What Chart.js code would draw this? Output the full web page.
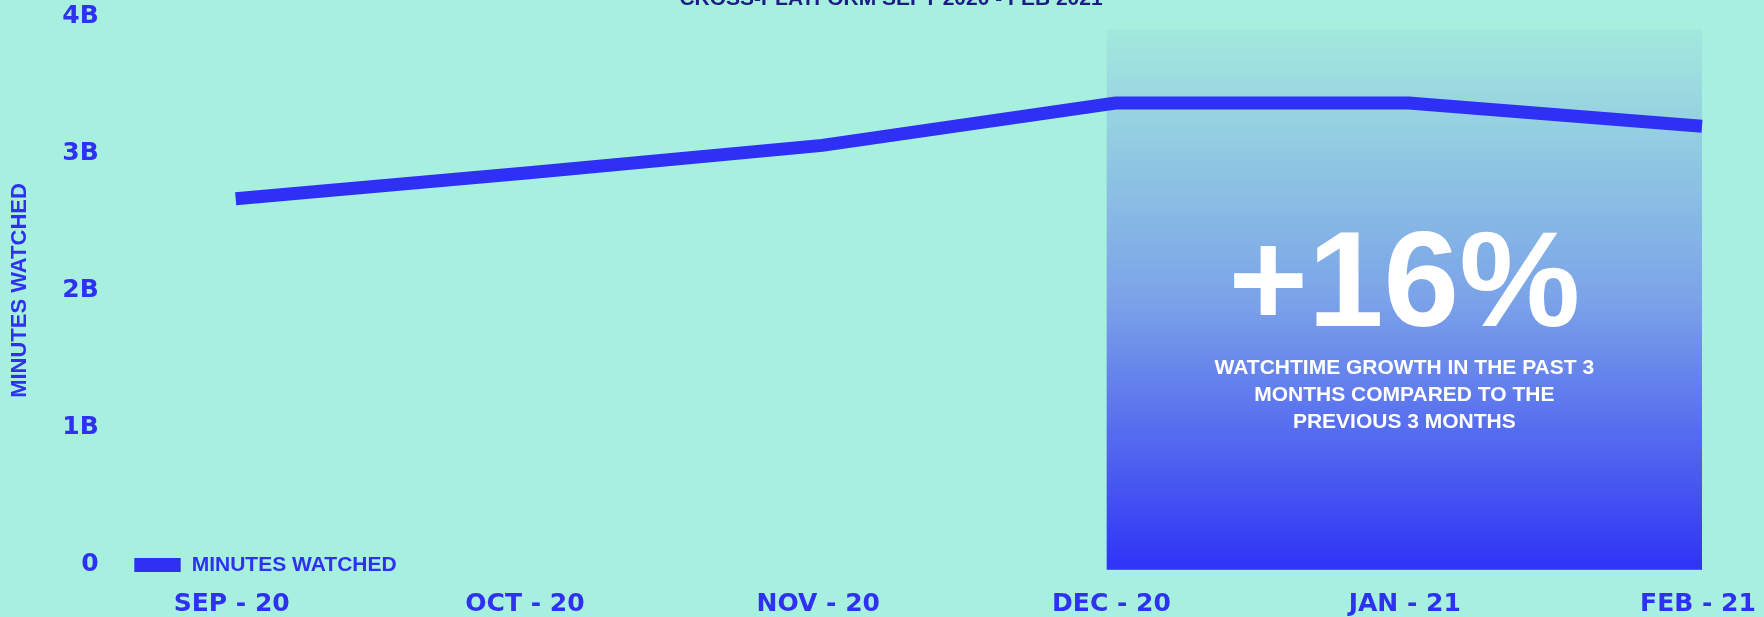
<!DOCTYPE html>
<html>
<head>
<meta charset="utf-8">
<script src="https://cdn.jsdelivr.net/npm/chart.js@4.4.0/dist/chart.umd.min.js"></script>
<style>
  html, body { margin: 0; padding: 0; background: #a7efdf; overflow: hidden; }
  #wrap { position: relative; width: 1764px; height: 617px; }
</style>
</head>
<body>
<div id="wrap"><canvas id="watch-chart"></canvas></div>
<script>
// Minutes watched per month, cross-platform (in billions)
const months = ['SEP - 20', 'OCT - 20', 'NOV - 20', 'DEC - 20', 'JAN - 21', 'FEB - 21'];
const minutesWatched = [2.67, 2.86, 3.06, 3.37, 3.37, 3.20];
const yTickLabels = ['0', '1B', '2B', '3B', '4B'];

// Highlighted period (Dec - Feb) with its callout
const highlightFrom = 2.97;   // just left of DEC - 20
const highlightTo = 5;        // FEB - 21
const highlightTop = 3.91;
const highlightBottom = -0.04;
const growthLabel = '+16%';
const growthText = ['WATCHTIME GROWTH IN THE PAST 3', 'MONTHS COMPARED TO THE', 'PREVIOUS 3 MONTHS'];
const chartTitle = 'CROSS-PLATFORM SEPT 2020 - FEB 2021';
const seriesLabel = 'MINUTES WATCHED';

const blue = '#2f31f2';
const lineBlue = '#2e30f5';
const tickFont = { family: '"DejaVu Sans"', weight: 'bold', size: 25 };

// Draws the gradient box, the +16% callout, the legend and the cut-off title
const calloutPlugin = {
  id: 'callout',
  beforeDatasetsDraw(chart) {
    const { ctx, scales: { x, y } } = chart;
    const left = x.getPixelForValue(highlightFrom);
    const right = x.getPixelForValue(highlightTo);
    const top = y.getPixelForValue(highlightTop);
    const bottom = y.getPixelForValue(highlightBottom);
    const h = bottom - top;

    const grad = ctx.createLinearGradient(0, top, 0, bottom);
    grad.addColorStop(0, '#a3e9dd');
    grad.addColorStop(0.5, '#7ba3e8');
    grad.addColorStop(1, '#2f33f6');

    ctx.save();
    ctx.fillStyle = grad;
    ctx.fillRect(left, top, right - left, h);

    const cx = (left + right) / 2;
    ctx.fillStyle = '#ffffff';
    ctx.textAlign = 'center';
    ctx.textBaseline = 'alphabetic';
    ctx.font = 'bold 136px "Liberation Sans", Arial, sans-serif';
    ctx.fillText(growthLabel, cx, top + h * 0.55);

    ctx.font = 'bold 21px "Liberation Sans", Arial, sans-serif';
    ctx.textBaseline = 'middle';
    growthText.forEach((line, i) => {
      ctx.fillText(line, cx, top + h * 0.627 + i * 27);
    });
    ctx.restore();
  },
  afterDraw(chart) {
    const { ctx, chartArea, scales: { y } } = chart;
    const zeroY = y.getPixelForValue(0) + 0.7;

    ctx.save();
    // legend (sits inside the plot, next to the zero line)
    ctx.fillStyle = lineBlue;
    ctx.fillRect(chartArea.left - 101.4, zeroY - 7, 46.4, 14);
    ctx.fillStyle = blue;
    ctx.font = 'bold 21px "Liberation Sans", Arial, sans-serif';
    ctx.textAlign = 'left';
    ctx.textBaseline = 'middle';
    ctx.fillText(seriesLabel, chartArea.left - 44, zeroY);

    // title, mostly cut off by the top edge
    ctx.fillStyle = '#1d1b84';
    ctx.textAlign = 'center';
    ctx.textBaseline = 'alphabetic';
    ctx.fillText(chartTitle, chart.width / 2 + 9, 5);
    ctx.restore();
  }
};

var watchChart = new Chart(document.getElementById('watch-chart'), {
  type: 'line',
  data: {
    labels: months,
    datasets: [{
      label: seriesLabel,
      data: minutesWatched,
      borderColor: lineBlue,
      backgroundColor: lineBlue,
      borderWidth: 13,
      borderJoinStyle: 'miter',
      pointRadius: 0,
      tension: 0,
      fill: false
    }]
  },
  options: {
    responsive: true,
    maintainAspectRatio: false,
    animation: false,
    layout: { padding: { top: 16.7, right: 62, bottom: 0, left: 0 } },
    plugins: {
      legend: { display: false },
      tooltip: { enabled: false }
    },
    scales: {
      x: {
        offset: false,
        grid: { display: false, drawTicks: false },
        border: { display: false },
        ticks: {
          color: blue,
          font: tickFont,
          padding: 25,
          labelOffset: -4,
          maxRotation: 0,
          autoSkip: false
        },
        afterFit(scale) {
          scale.height = 52.7;
          scale.paddingLeft = 0;
          scale.paddingRight = 0;
        }
      },
      y: {
        min: 0,
        max: 4,
        grid: { display: false, drawTicks: false },
        border: { display: false },
        ticks: {
          stepSize: 1,
          padding: 137,
          color: blue,
          font: tickFont,
          callback: (value, index) => yTickLabels[index]
        },
        title: {
          display: true,
          text: seriesLabel,
          color: blue,
          font: { family: '"Liberation Sans"', weight: 'bold', size: 22 },
          padding: { top: 7, bottom: 0 }
        },
        afterFit(scale) {
          // wide gap between tick labels and plot; keep the vertical padding small
          scale.width = 235.7;
          scale.paddingTop = 15;
          scale.paddingBottom = 15;
        }
      }
    }
  },
  plugins: [calloutPlugin]
});
</script>
</body>
</html>
